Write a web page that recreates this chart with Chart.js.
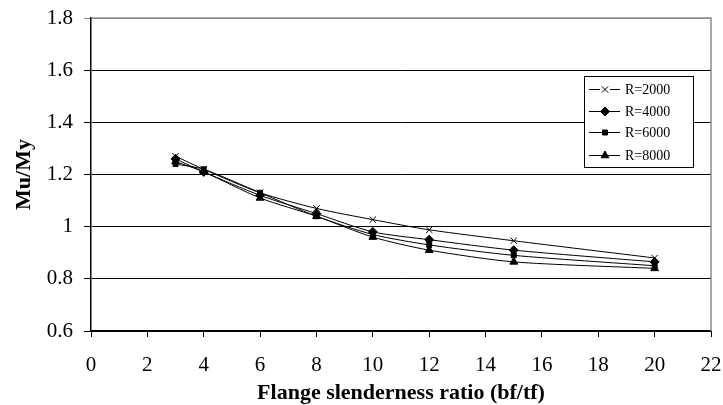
<!DOCTYPE html>
<html>
<head>
<meta charset="utf-8">
<script src="https://cdn.jsdelivr.net/npm/chart.js@4/dist/chart.umd.min.js"></script>
<style>
  html, body { margin: 0; padding: 0; background: #fff; }
  #wrap { width: 723px; height: 405px; position: relative; }
</style>
</head>
<body>
<div id="wrap"><canvas id="chart" width="723" height="405"></canvas></div>
<script>
const xValues = [3, 4, 6, 8, 10, 12, 15, 20];
const r2000 = [1.27, 1.22, 1.13, 1.07, 1.027, 0.988, 0.946, 0.88];
const r4000 = [1.26, 1.21, 1.12, 1.05, 0.98, 0.95, 0.91, 0.865];
const r6000 = [1.24, 1.22, 1.13, 1.04, 0.97, 0.93, 0.89, 0.85];
const r8000 = [1.25, 1.21, 1.11, 1.04, 0.96, 0.91, 0.865, 0.84];
const seriesLabels = ['R=2000', 'R=4000', 'R=6000', 'R=8000'];
const markerStyles = ['crossRot', 'rectRot', 'rect', 'triangle'];

const FONT = '"Liberation Serif", "Times New Roman", serif';

const toPoints = (vals) => vals.map((y, i) => ({ x: xValues[i], y }));

const buildDataset = (label, vals, style) => ({
  label,
  data: toPoints(vals),
  borderColor: '#000',
  backgroundColor: '#000',
  borderWidth: 1,
  pointStyle: style,
  pointRadius: style === 'rect' ? 3.5 : 4.5,
  pointBorderWidth: 1,
  tension: 0.25,
});

const datasets = [
  buildDataset(seriesLabels[0], r2000, markerStyles[0]),
  buildDataset(seriesLabels[1], r4000, markerStyles[1]),
  buildDataset(seriesLabels[2], r6000, markerStyles[2]),
  buildDataset(seriesLabels[3], r8000, markerStyles[3]),
];

// grey plot frame (top + right) and the boxed legend inside the plot
const frameAndLegend = {
  id: 'frameAndLegend',
  beforeDatasetsDraw(chart) {
    const { ctx, chartArea: a } = chart;
    ctx.save();
    ctx.strokeStyle = '#8a8a8a';
    ctx.lineWidth = 1.5;
    ctx.beginPath();
    ctx.moveTo(a.left, a.top);
    ctx.lineTo(a.right, a.top);
    ctx.lineTo(a.right, a.bottom);
    ctx.stroke();
    ctx.restore();
  },
  afterDraw(chart) {
    const { ctx } = chart;
    const box = { x: 584, y: 76, w: 109, h: 91 };
    ctx.save();
    ctx.fillStyle = '#fff';
    ctx.fillRect(box.x, box.y, box.w, box.h);
    ctx.strokeStyle = '#000';
    ctx.lineWidth = 1;
    ctx.strokeRect(box.x + 0.5, box.y + 0.5, box.w, box.h);
    const rows = [89, 111, 132, 155];
    chart.data.datasets.forEach((ds, i) => {
      const y = rows[i];
      ctx.strokeStyle = '#000';
      ctx.lineWidth = 1;
      ctx.beginPath();
      ctx.moveTo(589, y + 0.5);
      ctx.lineTo(620, y + 0.5);
      ctx.stroke();
      ctx.fillStyle = '#fff';
      if (ds.pointStyle === 'crossRot') ctx.fillRect(600, y - 5, 10, 10);
      ctx.fillStyle = '#000';
      Chart.helpers.drawPoint(ctx, {
        pointStyle: ds.pointStyle,
        radius: ds.pointRadius,
        borderWidth: 1,
      }, 605, y + 0.5);
      ctx.font = '14px ' + FONT;
      ctx.textBaseline = 'middle';
      ctx.textAlign = 'left';
      ctx.fillText(ds.label, 625, y + 1);
    });
    ctx.restore();
  },
};

new Chart(document.getElementById('chart'), {
  type: 'line',
  data: { datasets },
  options: {
    responsive: false,
    animation: false,
    layout: { padding: { top: 18, right: 12, left: 0, bottom: 0 } },
    plugins: {
      legend: { display: false },
      tooltip: { enabled: false },
    },
    scales: {
      x: {
        type: 'linear',
        min: 0,
        max: 22,
        afterFit: (s) => {
          s.height = 74;
          s.paddingLeft = 0;
          s.paddingRight = 0;
        },
        ticks: {
          stepSize: 2,
          color: '#000',
          font: { family: FONT, size: 21 },
          padding: 16,
          maxRotation: 0,
        },
        grid: {
          drawOnChartArea: false,
          tickLength: 6,
          color: '#000',
        },
        border: { color: '#000', width: 1.5 },
        title: {
          display: true,
          text: 'Flange slenderness ratio (bf/tf)',
          color: '#000',
          font: { family: FONT, size: 22, weight: 'bold', lineHeight: 1.1 },
          padding: { top: 0, bottom: 0 },
        },
      },
      y: {
        min: 0.6,
        max: 1.8,
        afterFit: (s) => {
          s.width = 91;
          s.paddingTop = 0;
          s.paddingBottom = 0;
        },
        ticks: {
          stepSize: 0.2,
          color: '#000',
          font: { family: FONT, size: 21 },
          padding: 11,
          callback: (v) => String(Math.round(v * 10) / 10),
        },
        grid: {
          tickLength: 7,
          color: (c) => (c.tick && Math.abs(c.tick.value - 1.8) < 1e-6 ? '#8a8a8a' : '#000'),
          lineWidth: 1,
        },
        border: { color: '#000', width: 1.5 },
        title: {
          display: true,
          text: 'Mu/My',
          color: '#000',
          font: { family: FONT, size: 22, weight: 'bold', lineHeight: 1.2 },
          padding: { top: 11, bottom: 0 },
        },
      },
    },
  },
  plugins: [frameAndLegend],
});
</script>
</body>
</html>
